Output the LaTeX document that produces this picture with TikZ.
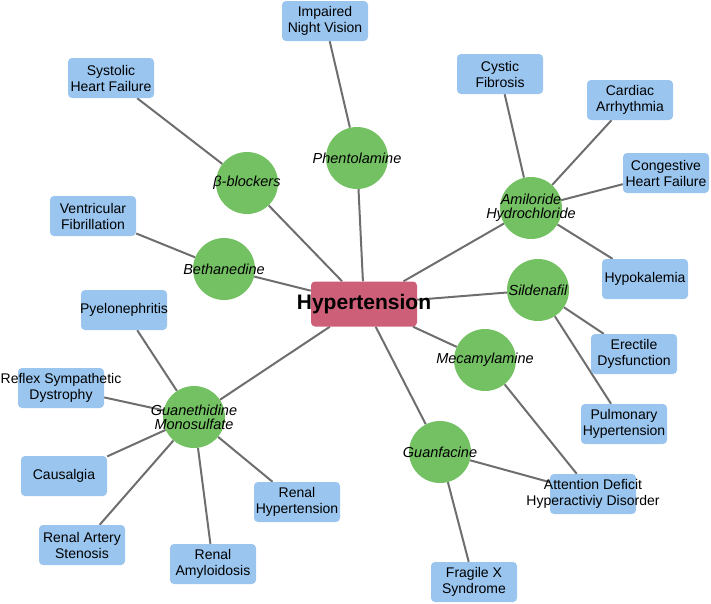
\documentclass[tikz,border=0pt]{standalone}
\usepackage{fontspec}
\setmainfont{Liberation Sans}
\usetikzlibrary{backgrounds}
\definecolor{hubred}{HTML}{CD6078}
\definecolor{druggreen}{HTML}{73C163}
\definecolor{symblue}{HTML}{99C5EF}
\definecolor{linkgray}{HTML}{6E6E6E}
\tikzset{
  htxt/.style={font=\fontsize{21}{24}\selectfont\bfseries},
  dtxt/.style={align=center,inner sep=0pt,font=\fontsize{14.5}{14}\selectfont\itshape},
  stxt/.style={align=center,inner sep=0pt,font=\fontsize{14}{16}\selectfont},
  hub/.style={rectangle,fill=hubred,rounded corners=4pt,minimum width=106pt,
    minimum height=45pt,inner sep=0pt,label={[htxt]center:{#1}}},
  drug/.style={circle,fill=druggreen,minimum size=62pt,inner sep=0pt,
    label={[dtxt]center:{#1}}},
  sym/.style={rectangle,fill=symblue,rounded corners=4pt,minimum width=86pt,
    minimum height=40pt,inner sep=0pt,label={[stxt]center:{#1}}},
  link/.style={draw=linkgray,line width=2pt},
}

\begin{document}
\begin{tikzpicture}[x=1pt,y=-1pt]
  \useasboundingbox (0,0) rectangle (711,603);
  % centre
  \node[hub=Hypertension] (hyp) at (364,304) {};
  % drugs
  \node[drug=Phentolamine] (phen) at (357,158) {};
  \node[drug=β-blockers] (bb) at (247,183) {};
  \node[drug=Bethanedine] (beth) at (224,269) {};
  \node[drug={Amiloride\\Hydrochloride}] (amil) at (531,208) {};
  \node[drug=Sildenafil] (sild) at (538,290) {};
  \node[drug=Mecamylamine] (meca) at (485,360) {};
  \node[drug=Guanfacine] (guanf) at (440,452) {};
  \node[drug={Guanethidine\\Monosulfate}] (gmono) at (194,417) {};
  % conditions
  \node[sym={Impaired\\Night Vision}] (inv) at (325,21) {};
  \node[sym={Systolic\\Heart Failure}] (shf) at (111,78) {};
  \node[sym={Ventricular\\Fibrillation}] (vf) at (93,216) {};
  \node[sym={Cystic\\Fibrosis}] (cf) at (500,74) {};
  \node[sym={Cardiac\\Arrhythmia}] (ca) at (630,100) {};
  \node[sym={Congestive\\Heart Failure}] (chf) at (666,173) {};
  \node[sym=Hypokalemia] (hypok) at (645,279) {};
  \node[sym={Erectile\\Dysfunction}] (ed) at (634,354) {};
  \node[sym={Pulmonary\\Hypertension}] (ph) at (624,424) {};
  \node[sym={Attention Deficit\\Hyperactiviy Disorder}] (adhd) at (593,494) {};
  \node[sym={Fragile X\\Syndrome}] (fxs) at (474,582) {};
  \node[sym=Pyelonephritis] (pyel) at (124,310) {};
  \node[sym={Reflex Sympathetic\\Dystrophy}] (rsd) at (61,388) {};
  \node[sym=Causalgia] (caus) at (64,476) {};
  \node[sym={Renal Artery\\Stenosis}] (ras) at (82,545) {};
  \node[sym={Renal\\Amyloidosis}] (ramy) at (213,564) {};
  \node[sym={Renal\\Hypertension}] (rhyp) at (297,502) {};
  % links
  \begin{scope}[on background layer]
    \foreach \d in {phen,bb,beth,amil,sild,meca,guanf,gmono}
      \draw[link] (hyp) -- (\d);
    \foreach \a/\b in {phen/inv,bb/shf,beth/vf,amil/cf,amil/ca,amil/chf,
      amil/hypok,sild/ed,sild/ph,meca/adhd,guanf/adhd,guanf/fxs,gmono/pyel,
      gmono/rsd,gmono/caus,gmono/ras,gmono/ramy,gmono/rhyp}
      \draw[link] (\a) -- (\b);
  \end{scope}
\end{tikzpicture}
\end{document}
